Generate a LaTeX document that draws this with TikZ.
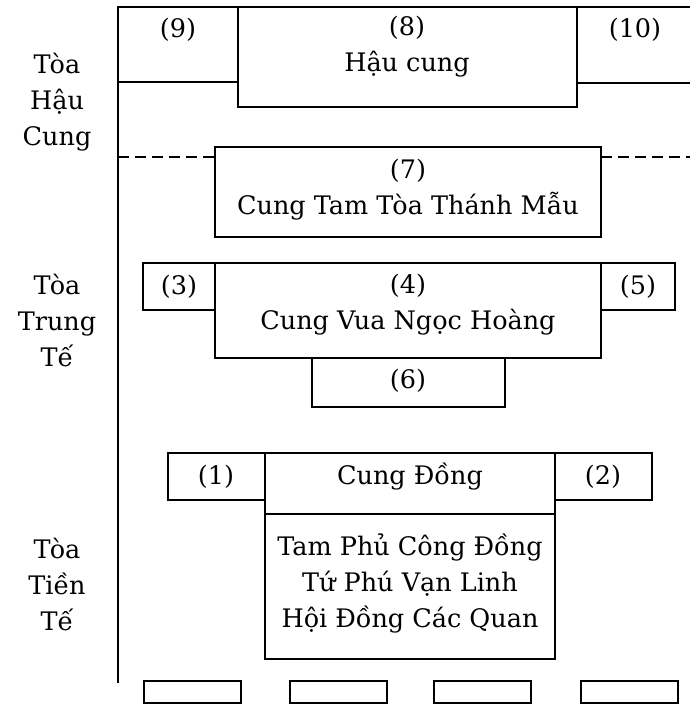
\documentclass[tikz,border=0pt]{standalone}
\usepackage{fontspec}
\setmainfont{DejaVu Serif}
\usepackage{tikz}

\begin{document}
\begin{tikzpicture}[x=1pt, y=-1pt,
    wall/.style={draw=black, line width=1.6pt},
    lbl/.style={font=\fontsize{25.5}{36}\selectfont, align=center, inner sep=0pt}
]
    \useasboundingbox (0,0) rectangle (690,705);

    % Outer wall and the rear row
    \draw[wall] (690,7) -- (118,7) -- (118,683);
    \draw[wall] (118,82) -- (238,82);
    \draw[wall] (238,7) rectangle (577,107);
    \draw[wall] (577,83) -- (690,83);
    \node[lbl] (n9) at (178,30) {(9)};
    \node[lbl] (n8) at (407,47) {(8)\\Hậu cung};
    \node[lbl] (n10) at (635,30) {(10)};

    % Dashed divider
    \draw[wall, dash pattern=on 11pt off 6pt] (118,157) -- (215,157);
    \draw[wall, dash pattern=on 11pt off 6pt] (601,157) -- (690,157);

    % Cung Tam Toa
    \draw[wall] (215,147) rectangle (601,237);
    \node[lbl] (n7) at (408,190) {(7)\\Cung Tam Tòa Thánh Mẫu};

    % Middle row
    \draw[wall] (143,263) rectangle (215,310);
    \draw[wall] (215,263) rectangle (601,358);
    \draw[wall] (601,263) rectangle (675,310);
    \draw[wall] (312,358) rectangle (505,407);
    \node[lbl] (n3) at (179,287) {(3)};
    \node[lbl] (n4) at (408,305) {(4)\\Cung Vua Ngọc Hoàng};
    \node[lbl] (n5) at (638,287) {(5)};
    \node[lbl] (n6) at (408,381) {(6)};

    % Front row
    \draw[wall] (168,453) rectangle (265,500);
    \draw[wall] (265,453) rectangle (555,514);
    \draw[wall] (555,453) rectangle (652,500);
    \draw[wall] (265,514) rectangle (555,659);
    \node[lbl] (n1) at (216,477) {(1)};
    \node[lbl] (cd) at (410,477) {Cung Đồng};
    \node[lbl] (n2) at (603,477) {(2)};
    \node[lbl] (tp) at (410,583) {Tam Phủ Công Đồng\\Tứ Phú Vạn Linh\\Hội Đồng Các Quan};

    % Gate boxes
    \foreach \x in {144,290,434,581}
        \draw[wall] (\x,681) rectangle (\x+97,703);

    % Section names
    \node[lbl] (hc) at (57,102) {Tòa\\Hậu\\Cung};
    \node[lbl] (tt) at (57,320) {Tòa\\Trung\\Tế};
    \node[lbl] (ti) at (57,584) {Tòa\\Tiền\\Tế};
\end{tikzpicture}
\end{document}
